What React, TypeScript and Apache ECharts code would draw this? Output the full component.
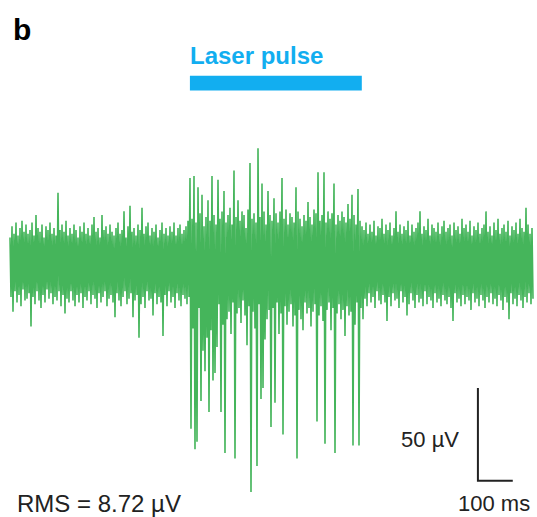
import React, { useEffect, useRef } from "react";
import * as echarts from "echarts";

// Recording window (ms) and laser pulse timing (ms)
const WINDOW_MS = 1500;
const LASER_START_MS = 516;
const LASER_END_MS = 1009;

// Envelope of the trace, one column every ~5.7 ms: local maxima (µV)
const peaksUV: number[] = [
  14, 20, 16, 22, 15, 19, 23, 17, 21, 16,
  18, 22, 15, 26, 19, 17, 21, 14, 20, 18,
  22, 16, 19, 15, 38, 18, 21, 17, 23, 15,
  19, 16, 21, 18, 14, 20, 17, 22, 16, 19,
  15, 21, 25, 17, 19, 14, 26, 18, 20, 16,
  21, 17, 15, 19, 22, 16, 18, 28, 14, 20,
  31, 17, 19, 15, 21, 18, 30, 16, 20, 22,
  15, 19, 17, 21, 14, 18, 22, 16, 19, 15,
  20, 17, 22, 15, 19, 21, 16, 18, 20, 23,
  46, 24, 47, 22, 41, 27, 37, 20, 25, 34,
  23, 47, 26, 21, 45, 24, 28, 39, 22, 26,
  30, 21, 50, 25, 34, 23, 28, 26, 19, 29,
  54, 24, 27, 22, 62, 25, 43, 28, 21, 39,
  26, 23, 35, 27, 22, 28, 46, 24, 29, 21,
  27, 25, 22, 41, 28, 24, 20, 26, 23, 33,
  25, 21, 29, 27, 49, 23, 26, 49, 22, 28,
  24, 27, 43, 21, 26, 23, 28, 25, 22, 32,
  24, 37, 26, 21, 40, 23, 20,
  18, 22, 16, 21, 17, 23, 15, 20, 19, 24,
  16, 21, 18, 22, 15, 19, 28, 17, 21, 16,
  20, 18, 23, 15, 21, 17, 19, 22, 28, 16,
  20, 18, 24, 15, 21, 19, 17, 22, 16, 20,
  23, 17, 19, 21, 15, 22, 18, 20, 16, 24,
  19, 21, 17, 23, 15, 20, 18, 22, 16, 19,
  21, 28, 17, 20, 15, 22, 18, 24, 16, 19,
  21, 17, 23, 15, 20, 18, 22, 16, 24, 19,
  17, 30, 21, 16, 19,
];

// Local minima (µV), same columns
const troughsUV: number[] = [
  -18, -26, -15, -21, -17, -23, -14, -20, -19, -16,
  -34, -18, -22, -15, -20, -24, -17, -21, -14, -19,
  -16, -22, -18, -20, -15, -23, -17, -27, -19, -21,
  -15, -20, -23, -17, -21, -16, -24, -18, -20, -15,
  -22, -17, -19, -24, -16, -21, -18, -15, -23, -19,
  -17, -21, -29, -16, -20, -23, -18, -15, -22, -19,
  -16, -29, -20, -17, -40, -22, -18, -24, -15, -20,
  -19, -28, -16, -22, -18, -21, -39, -17, -23, -15,
  -21, -18, -24, -16, -20, -23, -17, -19, -22, -18,
  -89, -35, -100, -96, -24, -74, -47, -58, -40, -80,
  -36, -63, -59, -45, -22, -80, -33, -102, -30, -26,
  -38, -21, -105, -27, -24, -32, -20, -28, -44, -23,
  -123, -26, -35, -109, -22, -73, -67, -41, -30, -25,
  -88, -24, -75, -21, -38, -27, -92, -23, -33, -26,
  -22, -34, -28, -105, -25, -30, -36, -21, -27, -24,
  -34, -26, -22, -85, -28, -23, -31, -97, -25, -21,
  -36, -24, -102, -27, -22, -30, -25, -39, -23, -28,
  -26, -98, -33, -21, -98, -24, -30,
  -19, -23, -16, -21, -18, -24, -15, -20, -22, -17,
  -21, -31, -18, -23, -16, -20, -19, -24, -15, -21,
  -18, -28, -22, -16, -20, -24, -17, -21, -19, -23,
  -15, -22, -18, -20, -24, -16, -21, -19, -23, -17,
  -20, -22, -18, -24, -31, -16, -21, -19, -23, -17,
  -22, -18, -20, -25, -16, -21, -19, -23, -17, -20,
  -24, -18, -21, -16, -22, -19, -23, -17, -20, -25,
  -18, -21, -30, -16, -22, -19, -23, -17, -20, -24,
  -18, -21, -16, -22, -19,
];

// Scale bar (ms, µV)
const SCALE_T_MS = 1342;
const SCALE_TIME_MS = 100;
const SCALE_TOP_UV = -67;
const SCALE_AMP_UV = 50;

// Laser bar amplitude band (µV, in axis units)
const LASER_BAR_UV: [number, number] = [93, 101];

const texts = {
  panel: "b",
  laser: "Laser pulse",
  amp: "50 µV",
  time: "100 ms",
  rms: "RMS = 8.72 µV",
};

const GREEN = "#45b55b";
const CYAN = "#12aef0";
const DARK = "#222222";
const FONT = "'Liberation Sans', Arial, Helvetica, sans-serif";

export default function App() {
  const ref = useRef<HTMLDivElement>(null);

  useEffect(() => {
    if (!ref.current) return;
    const chart = echarts.init(ref.current, undefined, { renderer: "svg" });

    // interleave peaks and troughs into one trace
    const trace: [number, number][] = [];
    const nSamples = peaksUV.length * 2;
    const dt = WINDOW_MS / (nSamples - 1);
    for (let i = 0; i < peaksUV.length; i++) {
      trace.push([2 * i * dt, peaksUV[i]]);
      trace.push([(2 * i + 1) * dt, troughsUV[i]]);
    }

    const scaleBar: [number, number][] = [
      [SCALE_T_MS, SCALE_TOP_UV],
      [SCALE_T_MS, SCALE_TOP_UV - SCALE_AMP_UV],
      [SCALE_T_MS + SCALE_TIME_MS, SCALE_TOP_UV - SCALE_AMP_UV],
    ];

    chart.setOption({
      animation: false,
      backgroundColor: "#ffffff",
      grid: { left: 10, right: 4, top: 59, height: 446 },
      xAxis: {
        type: "value",
        min: 0,
        max: WINDOW_MS,
        show: false,
      },
      yAxis: {
        type: "value",
        min: -130,
        max: 110,
        show: false,
      },
      series: [
        {
          type: "line",
          data: trace,
          showSymbol: false,
          symbol: "none",
          lineStyle: { color: GREEN, width: 1.6, join: "bevel" },
          silent: true,
          clip: false,
          markArea: {
            silent: true,
            itemStyle: { color: CYAN, opacity: 1 },
            label: { show: false },
            data: [
              [
                { coord: [LASER_START_MS, LASER_BAR_UV[0]] },
                { coord: [LASER_END_MS, LASER_BAR_UV[1]] },
              ],
            ],
          },
        },
        {
          type: "line",
          data: scaleBar,
          showSymbol: false,
          symbol: "none",
          lineStyle: { color: DARK, width: 2, cap: "butt", join: "miter" },
          silent: true,
        },
      ],
      graphic: [
        {
          type: "text",
          left: 13,
          top: 14,
          style: {
            text: texts.panel,
            fontSize: 30,
            fontWeight: "bold",
            fontFamily: FONT,
            fill: "#000",
          },
        },
        {
          type: "text",
          x: 190,
          y: 55,
          style: {
            text: texts.laser,
            fontSize: 24,
            fontWeight: "bold",
            fontFamily: FONT,
            fill: CYAN,
            align: "left",
            verticalAlign: "middle",
          },
        },
        {
          type: "text",
          x: 459,
          y: 439,
          style: {
            text: texts.amp,
            fontSize: 22,
            fontFamily: FONT,
            fill: DARK,
            align: "right",
            verticalAlign: "middle",
          },
        },
        {
          type: "text",
          x: 458,
          y: 503,
          style: {
            text: texts.time,
            fontSize: 22,
            fontFamily: FONT,
            fill: DARK,
            align: "left",
            verticalAlign: "middle",
          },
        },
        {
          type: "text",
          x: 17,
          y: 503,
          style: {
            text: texts.rms,
            fontSize: 24,
            fontFamily: FONT,
            fill: DARK,
            align: "left",
            verticalAlign: "middle",
          },
        },
      ],
    });

    return () => chart.dispose();
  }, []);

  return (
    <div
      ref={ref}
      style={{ position: "fixed", left: 0, top: 0, width: 537, height: 517 }}
    />
  );
}
